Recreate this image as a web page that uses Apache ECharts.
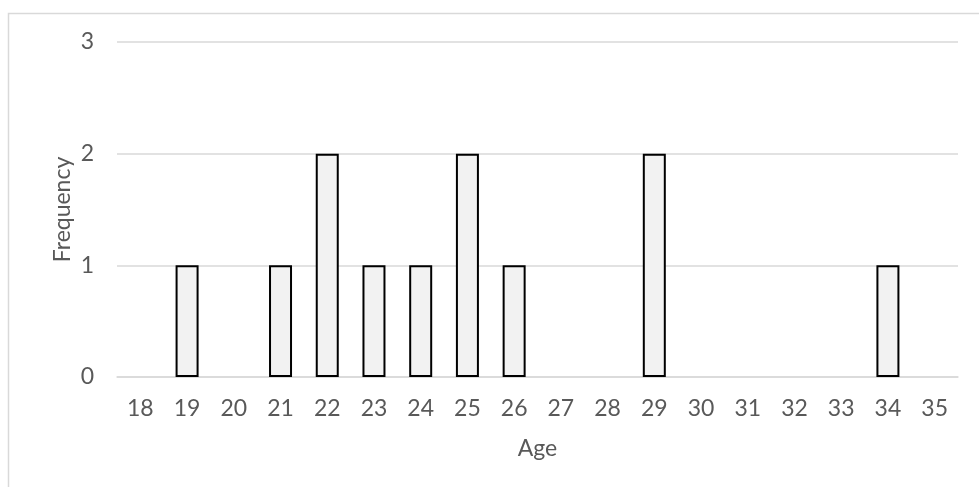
<!DOCTYPE html>
<html>
<head>
<meta charset="utf-8">
<script src="https://cdn.jsdelivr.net/npm/echarts@6/dist/echarts.min.js"></script>
<style>
  html, body { margin: 0; padding: 0; background: #fff; }
  #chart { width: 979px; height: 487px; }
</style>
</head>
<body>
<div id="chart"></div>
<script>
// Age histogram: number of people at each age
const ages = ['18','19','20','21','22','23','24','25','26','27','28','29','30','31','32','33','34','35'];
const frequency = [0, 1, 0, 1, 2, 1, 1, 2, 1, 0, 0, 2, 0, 0, 0, 0, 1, 0];
const yTicks = { min: 0, max: 3, step: 1 };

const FONT = 'Lato';
const FONT_SIZE = 23;
const TEXT = '#595959';
const GRID = '#d9d9d9';

// empty bins get no outline so nothing is drawn on the baseline
const barData = frequency.map(v => v === 0
  ? { value: v, itemStyle: { borderWidth: 0, opacity: 0 } }
  : { value: v });

const chart = echarts.init(document.getElementById('chart'));
chart.setOption({
  animation: false,
  backgroundColor: '#fff',
  graphic: [{
    type: 'rect',
    shape: { x: 8.5, y: 13.5, width: 990, height: 500 },
    style: { fill: 'none', stroke: GRID, lineWidth: 1.5 },
    silent: true
  }],
  grid: { left: 117, right: 21, top: 42, bottom: 110 },
  xAxis: {
    type: 'category',
    data: ages,
    name: 'Age',
    nameLocation: 'middle',
    nameGap: 60,
    nameTextStyle: { color: TEXT, fontFamily: FONT, fontSize: FONT_SIZE },
    axisTick: { show: false },
    axisLine: { lineStyle: { color: GRID, width: 1.5 } },
    axisLabel: { color: TEXT, fontFamily: FONT, fontSize: FONT_SIZE, margin: 20 }
  },
  yAxis: {
    type: 'value',
    min: yTicks.min,
    max: yTicks.max,
    interval: yTicks.step,
    name: 'Frequency',
    nameLocation: 'middle',
    nameGap: 43,
    nameMoveOverlap: false,
    nameTextStyle: { color: TEXT, fontFamily: FONT, fontSize: FONT_SIZE },
    axisLine: { show: false },
    axisTick: { show: false },
    splitLine: { lineStyle: { color: GRID, width: 1.5 } },
    axisLabel: { color: TEXT, fontFamily: FONT, fontSize: FONT_SIZE, margin: 23 }
  },
  series: [{
    type: 'bar',
    data: barData,
    barWidth: 23,
    itemStyle: { color: '#f2f2f2', borderColor: '#000', borderWidth: 2 }
  }]
});
</script>
</body>
</html>
